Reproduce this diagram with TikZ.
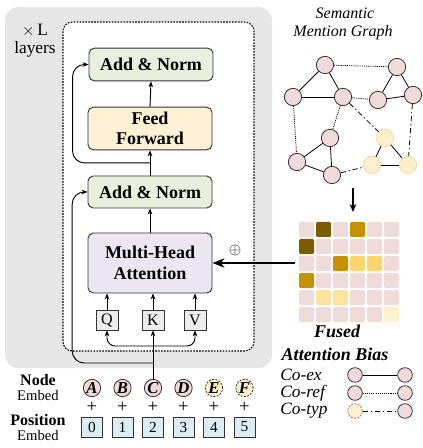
\documentclass[tikz,border=0pt]{standalone}
\usepackage{fontspec}
\setmainfont{Liberation Serif}
\usetikzlibrary{arrows.meta,calc}

\definecolor{bggray}{RGB}{230,230,230}
\definecolor{normgreen}{RGB}{232,239,223}
\definecolor{ffyellow}{RGB}{253,240,213}
\definecolor{mhapurple}{RGB}{234,231,242}
\definecolor{qkvgray}{RGB}{236,236,236}
\definecolor{mentpink}{RGB}{240,218,218}
\definecolor{mentyellow}{RGB}{253,239,204}
\definecolor{posblue}{RGB}{220,236,242}
\definecolor{biasp}{RGB}{240,219,219}
\definecolor{biasd}{RGB}{125,92,0}
\definecolor{biasg}{RGB}{196,146,0}
\definecolor{biasy}{RGB}{255,214,110}
\definecolor{biasl}{RGB}{253,227,160}
\definecolor{biasv}{RGB}{254,241,207}

\begin{document}
\begin{tikzpicture}[x=0.75pt,y=0.75pt,yscale=-1,
    block/.style={draw=black!80, line width=0.7pt, rounded corners=4pt, minimum width=93pt,
      align=center, font=\fontsize{13.5}{15.5}\selectfont\bfseries},
    qkv/.style={draw=black!80, line width=0.6pt, fill=qkvgray, minimum width=16.5pt,
      minimum height=15pt, inner sep=0pt, font=\fontsize{12}{12}\selectfont},
    conn/.style={line width=0.7pt, -{Stealth[length=4.5pt,width=3.5pt]}},
    mention/.style={circle, draw=black!80, line width=0.6pt, fill=mentpink, minimum size=13pt, inner sep=0pt},
    mentty/.style={circle, draw=black!80, line width=0.6pt, dash pattern=on 1.5pt off 1pt,
      fill=mentyellow, minimum size=13pt, inner sep=0pt},
    typnode/.style={circle, draw={rgb,255:red,238;green,215;blue,160}, line width=0.5pt, fill=mentyellow,
      minimum size=13pt, inner sep=0pt},
    posbox/.style={draw=black!80, line width=0.6pt, fill=posblue, minimum width=15.75pt,
      minimum height=15pt, inner sep=0pt, font=\fontsize{11.5}{11.5}\selectfont},
    lbl/.style={inner sep=0pt},
    coex/.style={line width=0.6pt},
    coref/.style={line width=0.6pt, dash pattern=on 0.8pt off 0.8pt},
    cotyp/.style={line width=0.6pt, dash pattern=on 4pt off 2pt on 1pt off 2pt},
  ]
  \useasboundingbox (0,0) rectangle (422,448);

  % encoder layer background
  \fill[bggray, rounded corners=10pt] (5,7) rectangle (272,368);
  \fill[white, rounded corners=7pt] (63,22) rectangle (254,351);
  \draw[line width=0.8pt, dash pattern=on 1.2pt off 1pt, rounded corners=7pt] (63,22) rectangle (254,351);
  \node[lbl, font=\fontsize{13}{13}\selectfont] (xl) at (35,30) {$\times$\,L};
  \node[lbl, font=\fontsize{13}{13}\selectfont] (layers) at (35,49) {layers};

  % sublayers
  \node[block, fill=normgreen, minimum height=24.5pt] (topnorm) at (151,64.5) {Add \& Norm};
  \node[block, fill=ffyellow, minimum height=32pt] (ffn) at (150,128.5) {Feed\\Forward};
  \node[block, fill=normgreen, minimum height=24pt] (midnorm) at (150,192) {Add \& Norm};
  \node[block, fill=mhapurple, minimum height=45pt] (mha) at (150,263) {Multi-Head\\Attention};
  \node[qkv] (qin) at (107,320) {Q};
  \node[qkv] (kin) at (153,320) {K};
  \node[qkv] (vin) at (195,320) {V};

  \draw[conn] (mha.north) -- (midnorm.south);
  \draw[conn] (midnorm.north) -- (ffn.south);
  \draw[conn] (ffn.north) -- (topnorm.south);
  \draw[conn] (qin.north) -- (qin.north |- mha.south);
  \draw[conn] (kin.north) -- (kin.north |- mha.south);
  \draw[conn] (vin.north) -- (vin.north |- mha.south);

  % input and residual paths
  \coordinate (split) at (153,346);
  \coordinate (res1) at (153,363);
  \coordinate (res2) at ($(midnorm.north)!0.5!(ffn.south)$);
  \draw[conn, rounded corners=6pt] (split) -| (qin.south);
  \draw[conn, rounded corners=6pt] (split) -| (vin.south);
  \draw[conn, rounded corners=9pt] (res1) -| ([xshift=-11.5pt]midnorm.west) -- (midnorm.west);
  \draw[conn, rounded corners=9pt] (res2) -| ([xshift=-12pt]topnorm.west) -- (topnorm.west);

  % semantic mention graph
  \node[lbl, font=\fontsize{12}{12}\selectfont\itshape] (semtitle) at (345,13) {Semantic};
  \node[lbl, font=\fontsize{12}{12}\selectfont\itshape] (semtitle2) at (343,33) {Mention Graph};
  \foreach \n/\px/\py in {1/325/65, 2/293/97, 3/343/97, 4/397/67, 5/378/100, 6/413/95,
      7/330/138, 8/297/162, 9/332/175}
    \node[mention] (m\n) at (\px,\py) {};
  \foreach \n/\px/\py in {10/385/138, 11/372/165, 12/408/165}
    \node[typnode] (m\n) at (\px,\py) {};
  \foreach \a/\b in {1/2, 1/3, 2/3, 4/5, 4/6, 5/6, 7/8, 7/9, 8/9, 10/11, 10/12, 11/12}
    \draw[coex] (m\a) -- (m\b);
  \foreach \a/\b in {1/4, 3/5, 2/8, 3/7}
    \draw[coref] (m\a) -- (m\b);
  \foreach \a/\b in {3/10, 9/11, 6/12}
    \draw[cotyp] (m\a) -- (m\b);

  % fused attention bias
  \foreach \row [count=\r from 0] in {{p,d,p,g,p,p},{d,p,p,p,p,p},{p,p,g,y,y,p},
      {g,p,p,p,p,p},{p,l,l,p,p,p},{p,p,p,p,p,v}}
    \foreach \k [count=\c from 0] in \row
      \fill[bias\k, rounded corners=1pt] ({299+17*\c},{222+17*\r}) rectangle +(15,15);
  \coordinate (graphout) at (353,188);
  \coordinate (biasin) at (353,212);
  \coordinate (biasout) at (295,263);
  \draw[line width=1.1pt, -{Stealth[length=6pt,width=5pt]}] (graphout) -- (biasin);
  \draw[line width=1.6pt, -{Stealth[length=9pt,width=7pt]}] (biasout) -- (mha.east);
  \node[lbl, font=\fontsize{13}{13}\selectfont] (fuse) at (235,250) {$\oplus$};
  \node[lbl, font=\fontsize{13.5}{13.5}\selectfont\bfseries\itshape] (biastitle) at (337,331) {Fused};
  \node[lbl, font=\fontsize{13.5}{13.5}\selectfont\bfseries\itshape] (biastitle2) at (335,354) {Attention Bias};

  % node and position embeddings
  \node[lbl, font=\fontsize{12}{12}\selectfont\bfseries] (nodelbl) at (38,380) {Node};
  \node[lbl, font=\fontsize{11}{11}\selectfont] (nodelbl2) at (38,395) {Embed};
  \node[lbl, font=\fontsize{12}{12}\selectfont\bfseries] (poslbl) at (38,420) {Position};
  \node[lbl, font=\fontsize{11}{11}\selectfont] (poslbl2) at (38,435) {Embed};
  \foreach \lbl/\sty [count=\i from 0] in {A/mention, B/mention, C/mention, D/mention, E/mentty, F/mentty} {
    \node[\sty, font=\fontsize{12.5}{12.5}\selectfont\bfseries\itshape] (emb\lbl) at ({92+30.5*\i},388) {\lbl};
    \node[lbl, font=\fontsize{14}{14}\selectfont] (plus\i) at ({92+30.5*\i},407) {+};
    \node[posbox] (pos\i) at ({92+30.5*\i},427) {\i};
  }
  \draw[line width=0.7pt] (embC.north) -- (res1);
  \draw[conn] (res1) -- (kin.south);

  % legend
  \node[anchor=west, lbl, font=\fontsize{13}{13}\selectfont\itshape] (lgex) at (280,375) {Co-ex};
  \node[anchor=west, lbl, font=\fontsize{13}{13}\selectfont\itshape] (lgref) at (280,393) {Co-ref};
  \node[anchor=west, lbl, font=\fontsize{13}{13}\selectfont\itshape] (lgtyp) at (280,411) {Co-typ};
  \node[mention, minimum size=11pt] (lx1) at (355,375) {};
  \node[mention, minimum size=11pt] (lx2) at (405,375) {};
  \node[mention, minimum size=11pt] (lr1) at (355,393) {};
  \node[mention, minimum size=11pt] (lr2) at (405,393) {};
  \node[mentty, minimum size=11pt, draw=black!50] (lt1) at (355,411) {};
  \node[mention, minimum size=11pt] (lt2) at (405,411) {};
  \draw[coex] (lx1) -- (lx2);
  \draw[coref] (lr1) -- (lr2);
  \draw[cotyp] (lt1) -- (lt2);
\end{tikzpicture}
\end{document}
